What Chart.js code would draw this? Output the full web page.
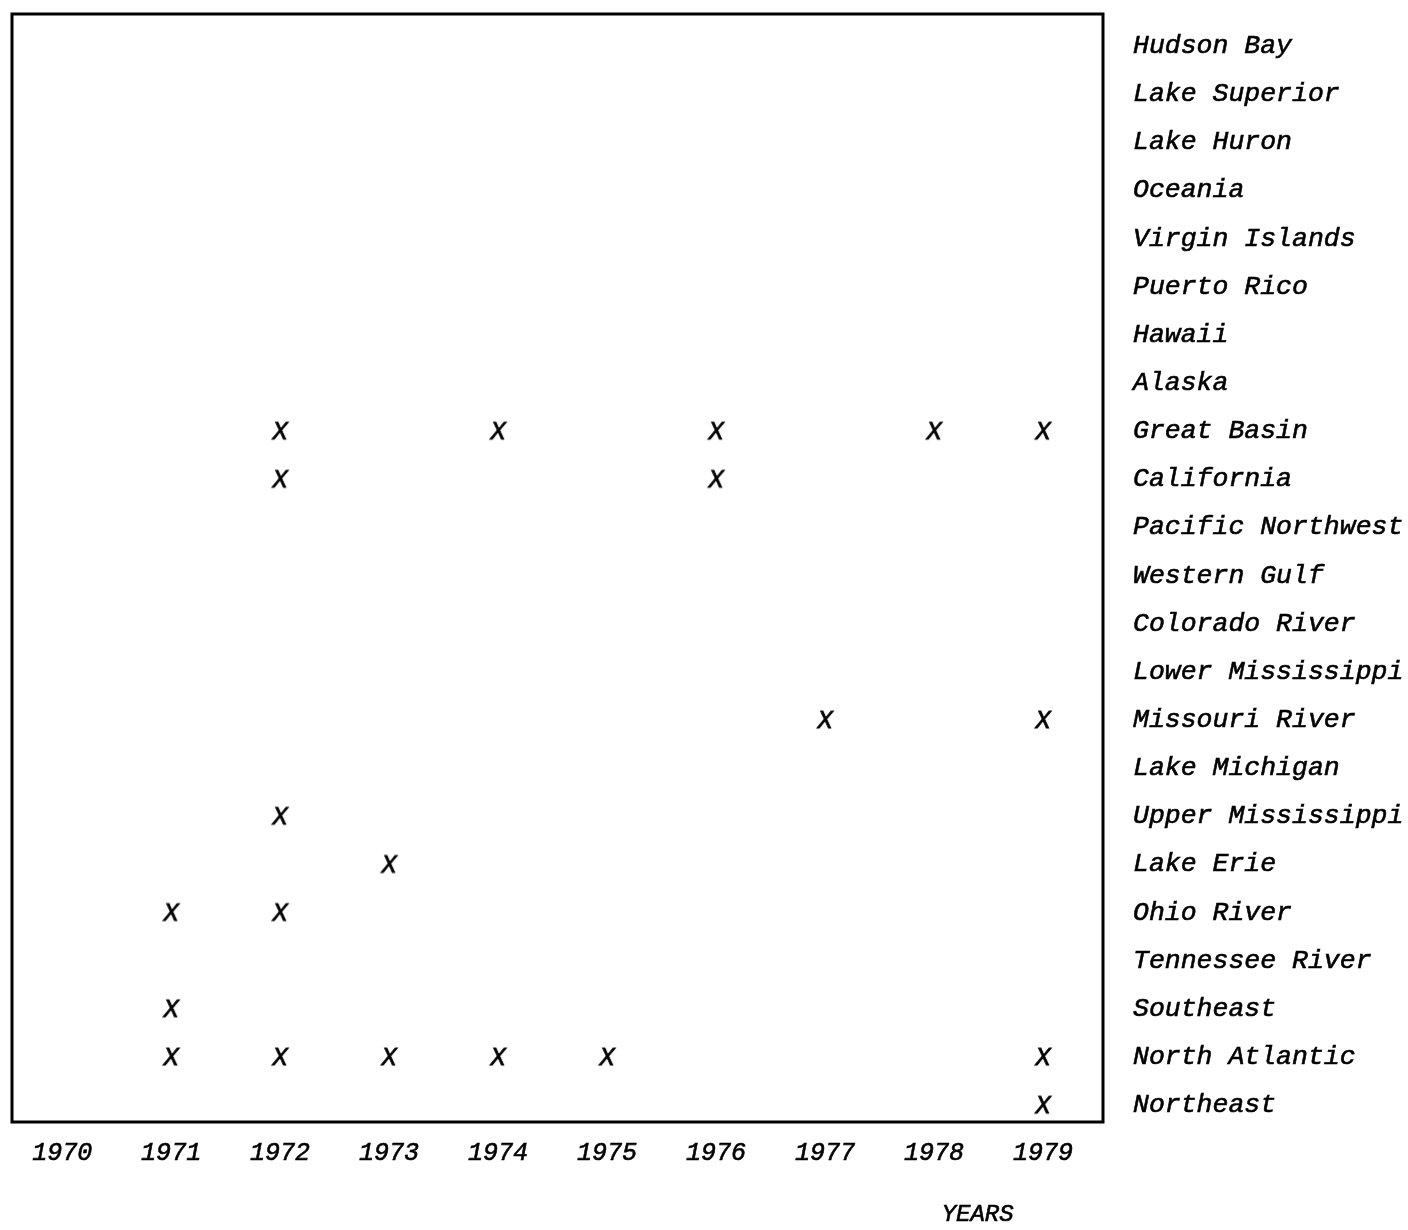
<!DOCTYPE html>
<html>
<head>
<meta charset="utf-8">
<script src="https://cdn.jsdelivr.net/npm/chart.js@4/dist/chart.umd.min.js"></script>
<style>
  html, body { margin: 0; padding: 0; background: #fff; }
  #wrap { width: 1408px; height: 1230px; }
</style>
</head>
<body>
<div id="wrap"><canvas id="chart"></canvas></div>
<script>
// regions, top to bottom as on the right-hand axis
const regions = [
  "Hudson Bay", "Lake Superior", "Lake Huron", "Oceania", "Virgin Islands",
  "Puerto Rico", "Hawaii", "Alaska", "Great Basin", "California",
  "Pacific Northwest", "Western Gulf", "Colorado River", "Lower Mississippi",
  "Missouri River", "Lake Michigan", "Upper Mississippi", "Lake Erie",
  "Ohio River", "Tennessee River", "Southeast", "North Atlantic", "Northeast"
];
const yearTicks = [1970, 1971, 1972, 1973, 1974, 1975, 1976, 1977, 1978, 1979];

// years marked with an X for each region
const greatBasin = [1972, 1974, 1976, 1978, 1979];
const california = [1972, 1976];
const missouriRiver = [1977, 1979];
const upperMississippi = [1972];
const lakeErie = [1973];
const ohioRiver = [1971, 1972];
const southeast = [1971];
const northAtlantic = [1971, 1972, 1973, 1974, 1975, 1979];
const northeast = [1979];

const marks = [
  ["Great Basin", greatBasin],
  ["California", california],
  ["Missouri River", missouriRiver],
  ["Upper Mississippi", upperMississippi],
  ["Lake Erie", lakeErie],
  ["Ohio River", ohioRiver],
  ["Southeast", southeast],
  ["North Atlantic", northAtlantic],
  ["Northeast", northeast]
];

const points = [];
marks.forEach(([name, yrs]) => {
  yrs.forEach((yr) => points.push({ x: yr, y: regions.indexOf(name) }));
});

const FONT = "'Liberation Mono', 'Courier New', monospace";
const INK = "#000";

// italic typewriter X used as point style
const xMark = document.createElement("canvas");
xMark.width = 30;
xMark.height = 30;
const mctx = xMark.getContext("2d");
mctx.fillStyle = INK;
mctx.strokeStyle = INK;
mctx.lineWidth = 0.8;
mctx.font = "italic 25px " + FONT;
mctx.textAlign = "center";
mctx.textBaseline = "middle";
mctx.fillText("X", 15, 16);
mctx.strokeText("X", 15, 16);

const framePlugin = {
  id: "frame",
  afterDraw(chart) {
    const { ctx, chartArea: a, scales } = chart;
    ctx.save();
    ctx.strokeStyle = INK;
    ctx.lineWidth = 3;
    ctx.strokeRect(a.left, a.top, a.right - a.left, a.bottom - a.top);
    // axis name under the year labels
    ctx.fillStyle = INK;
    ctx.lineWidth = 0.6;
    ctx.font = "italic 24px " + FONT;
    ctx.textAlign = "center";
    ctx.textBaseline = "middle";
    const xp = scales.x.getPixelForValue(1978.4);
    ctx.fillText("YEARS", xp, 1215);
    ctx.strokeText("YEARS", xp, 1215);
    ctx.restore();
  }
};

new Chart(document.getElementById("chart"), {
  type: "scatter",
  data: {
    datasets: [
      {
        data: points,
        pointStyle: xMark,
        pointRadius: 10,
        pointHoverRadius: 10
      }
    ]
  },
  options: {
    responsive: true,
    maintainAspectRatio: false,
    animation: false,
    layout: { padding: { left: 12, top: 14, right: 0, bottom: 0 } },
    plugins: {
      legend: { display: false },
      tooltip: { enabled: false }
    },
    scales: {
      x: {
        type: "linear",
        min: 1969.54,
        max: 1979.55,
        grid: { display: false, drawTicks: false },
        border: { display: false },
        afterBuildTicks: (s) => {
          s.ticks = yearTicks.map((v) => ({ value: v }));
        },
        afterFit: (s) => {
          s.height = 108;
          s.paddingLeft = 0;
          s.paddingRight = 0;
        },
        ticks: {
          padding: 16,
          color: INK,
          textStrokeColor: INK,
          textStrokeWidth: 0.6,
          font: { family: FONT, size: 25, style: "italic" },
          callback: (v) => String(v)
        }
      },
      y: {
        type: "linear",
        position: "right",
        reverse: true,
        min: -0.665,
        max: 22.35,
        grid: { display: false, drawTicks: false },
        border: { display: false },
        afterBuildTicks: (s) => {
          s.ticks = regions.map((r, i) => ({ value: i }));
        },
        afterFit: (s) => {
          s.width = 305;
          s.paddingTop = 0;
          s.paddingBottom = 0;
        },
        ticks: {
          padding: 30,
          color: INK,
          textStrokeColor: INK,
          textStrokeWidth: 0.6,
          font: { family: FONT, size: 26.5, style: "italic" },
          callback: (v) => regions[v]
        }
      }
    }
  },
  plugins: [framePlugin]
});
</script>
</body>
</html>
